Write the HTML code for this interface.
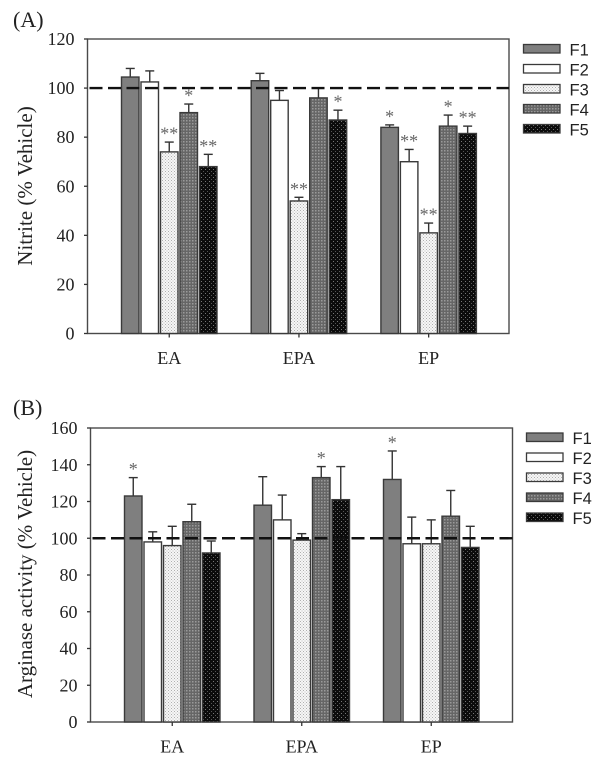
<!DOCTYPE html>
<html lang="en">
<head>
<meta charset="utf-8">
<title>Nitrite and arginase activity bar charts</title>
<style>
  html, body { margin: 0; padding: 0; background: #fff; }
  #figure { display: block; width: 601px; height: 765px; }
  text { fill: #222; font-family: "Liberation Serif", serif; }
</style>
</head>
<body>
<svg id="figure" xmlns="http://www.w3.org/2000/svg" width="601" height="765" viewBox="0 0 601 765">
  <defs>
    <pattern id="fill-f3" patternUnits="userSpaceOnUse" width="3" height="3">
      <rect width="3" height="3" fill="#f6f6f6"/>
      <rect x="0" y="0" width="1" height="1" fill="#b0b0b0"/>
      <rect x="1.5" y="1.5" width="1" height="1" fill="#c0c0c0"/>
    </pattern>
    <pattern id="fill-f4" patternUnits="userSpaceOnUse" width="3" height="3">
      <rect width="3" height="3" fill="#666"/>
      <rect x="0" y="0" width="1.5" height="1.5" fill="#9a9a9a"/>
    </pattern>
    <pattern id="fill-f5" patternUnits="userSpaceOnUse" width="4" height="4">
      <rect width="4" height="4" fill="#0c0c0c"/>
      <rect x="1" y="1" width="1" height="1" fill="#777"/>
      <rect x="3" y="3" width="1" height="1" fill="#555"/>
    </pattern>
  </defs>
  <g id="root"></g>
</svg>
<script>
const seriesNames = ["F1", "F2", "F3", "F4", "F5"];
const categories = ["EA", "EPA", "EP"];

const nitriteTicks = [0, 20, 40, 60, 80, 100, 120];
const nitriteF1 = [104.5, 103, 84];
const nitriteF2 = [102.5, 95, 70];
const nitriteF3 = [74, 54, 41];
const nitriteF4 = [90, 96, 84.5];
const nitriteF5 = [68, 87, 81.5];
const nitriteErrF1 = [3.5, 3, 1];
const nitriteErrF2 = [4.5, 4, 5];
const nitriteErrF3 = [4, 1.5, 4];
const nitriteErrF4 = [3.5, 4, 4.5];
const nitriteErrF5 = [5, 4, 3];
const nitriteSigF1 = ["", "", "*"];
const nitriteSigF2 = ["", "", "**"];
const nitriteSigF3 = ["**", "**", "**"];
const nitriteSigF4 = ["*", "", "*"];
const nitriteSigF5 = ["**", "*", "**"];

const arginaseTicks = [0, 20, 40, 60, 80, 100, 120, 140, 160];
const arginaseF1 = [123, 118, 132];
const arginaseF2 = [98, 110, 97];
const arginaseF3 = [96, 99, 97];
const arginaseF4 = [109, 133, 112];
const arginaseF5 = [92, 121, 95];
const arginaseErrF1 = [10, 15.5, 15.5];
const arginaseErrF2 = [5.5, 13.5, 14.5];
const arginaseErrF3 = [10.5, 3.5, 13];
const arginaseErrF4 = [9.5, 6, 14];
const arginaseErrF5 = [6.5, 18, 11.5];
const arginaseSigF1 = ["*", "", "*"];
const arginaseSigF2 = ["", "", ""];
const arginaseSigF3 = ["", "", ""];
const arginaseSigF4 = ["", "*", ""];
const arginaseSigF5 = ["", "", ""];

const referenceValue = 100;

const SVG_NS = "http://www.w3.org/2000/svg";
const root = document.getElementById("root");
const fills = ["#7f7f7f", "#ffffff", "url(#fill-f3)", "url(#fill-f4)", "url(#fill-f5)"];

function make(tag, attrs, parent, content) {
  const node = document.createElementNS(SVG_NS, tag);
  for (const key in attrs) node.setAttribute(key, attrs[key]);
  if (content !== undefined) node.textContent = content;
  parent.appendChild(node);
  return node;
}

function drawPanel(p) {
  const yScale = v => p.bottom - (v / p.yMax) * (p.bottom - p.top);
  const groupX = i => p.firstBar + i * p.groupPitch;
  const barX = (i, s) => groupX(i) + s * p.barPitch;
  const ink = "#3a3a3a";

  const panel = make("g", {}, root);
  
  

  const letter = make("text", { x: 13, y: p.letterY, "font-size": 22 }, panel, p.letter);
  
  

  const frame = make("rect", {
    x: p.left, y: p.top, width: p.right - p.left, height: p.bottom - p.top,
    fill: "#fff", stroke: "#4a4a4a", "stroke-width": 1.4
  }, panel);
  
  

  p.ticks.forEach(t => {
    const y = yScale(t);
    const tick = make("line", { x1: p.left - 3.5, x2: p.left, y1: y, y2: y, stroke: "#333", "stroke-width": 1.3 }, panel);
    
    
    const label = make("text", { x: p.left - 13, y: y + 6, "font-size": 18, "text-anchor": "end" }, panel, String(t));
    
    
  });

  const title = make("text", {
    transform: "translate(" + p.titleX + " " + p.titleY + ") rotate(-90)",
    "font-size": 21, "text-anchor": "middle"
  }, panel, p.title);
  
  

  categories.forEach((c, i) => {
    const cx = barX(i, 2) + p.barWidth / 2;
    const tick = make("line", { x1: cx, x2: cx, y1: p.bottom, y2: p.bottom + 4, stroke: "#333", "stroke-width": 1.3 }, panel);
    
    
    const label = make("text", { x: cx, y: p.catY, "font-size": 18, "text-anchor": "middle" }, panel, c);
    
    
  });

  seriesNames.forEach((name, s) => {
    p.values[s].forEach((v, i) => {
      const x = barX(i, s);
      const cx = x + p.barWidth / 2;
      const topY = yScale(v + p.errors[s][i]);

      const err = make("line", { x1: cx, x2: cx, y1: yScale(v), y2: topY, stroke: "#333", "stroke-width": 1.4 }, panel);
      
      
      const cap = make("line", { x1: cx - 4.5, x2: cx + 4.5, y1: topY, y2: topY, stroke: "#333", "stroke-width": 1.4 }, panel);
      
      

      const bar = make("rect", {
        x: x, y: yScale(v), width: p.barWidth, height: p.bottom - yScale(v),
        fill: fills[s], stroke: ink, "stroke-width": 1.4
      }, panel);
      
      

      if (p.sig[s][i]) {
        const star = make("text", {
          x: cx, y: topY - 2.5, "font-size": 18, "text-anchor": "middle",
          style: "fill:#666"
        }, panel, p.sig[s][i]);
        
        
      }
    });
  });

  const refLine = make("line", {
    x1: p.left + 2, x2: p.right, y1: yScale(referenceValue), y2: yScale(referenceValue),
    stroke: "#111", "stroke-width": 2.4, "stroke-dasharray": "13 5.5"
  }, panel);
  
  

  const legend = make("g", {}, panel);
  
  
  seriesNames.forEach((name, s) => {
    const y = p.legendY + s * 20;
    const swatch = make("rect", {
      x: p.legendX, y: y, width: 36.5, height: 8.5,
      fill: fills[s], stroke: ink, "stroke-width": 1.3
    }, legend);
    
    
    const label = make("text", {
      x: p.legendX + 46, y: y + 11, "font-size": 16.5,
      style: "font-family:'Liberation Sans',sans-serif"
    }, legend, name);
    
    
  });
}

drawPanel({
  id: "nitrite", letter: "(A)", letterY: 27, title: "Nitrite (% Vehicle)",
  titleX: 32, titleY: 186, catY: 364,
  left: 87.5, right: 509, top: 39, bottom: 333.5, yMax: 120,
  firstBar: 121.5, groupPitch: 129.7, barPitch: 19.5, barWidth: 17.5,
  legendX: 523.5, legendY: 44.5,
  ticks: nitriteTicks,
  values: [nitriteF1, nitriteF2, nitriteF3, nitriteF4, nitriteF5],
  errors: [nitriteErrF1, nitriteErrF2, nitriteErrF3, nitriteErrF4, nitriteErrF5],
  sig: [nitriteSigF1, nitriteSigF2, nitriteSigF3, nitriteSigF4, nitriteSigF5]
});

drawPanel({
  id: "arginase", letter: "(B)", letterY: 415, title: "Arginase activity (% Vehicle)",
  titleX: 32, titleY: 574, catY: 752.5,
  left: 90.5, right: 512.5, top: 428, bottom: 722, yMax: 160,
  firstBar: 124.5, groupPitch: 129.5, barPitch: 19.5, barWidth: 17.5,
  legendX: 526.5, legendY: 433,
  ticks: arginaseTicks,
  values: [arginaseF1, arginaseF2, arginaseF3, arginaseF4, arginaseF5],
  errors: [arginaseErrF1, arginaseErrF2, arginaseErrF3, arginaseErrF4, arginaseErrF5],
  sig: [arginaseSigF1, arginaseSigF2, arginaseSigF3, arginaseSigF4, arginaseSigF5]
});
</script>
</body>
</html>
